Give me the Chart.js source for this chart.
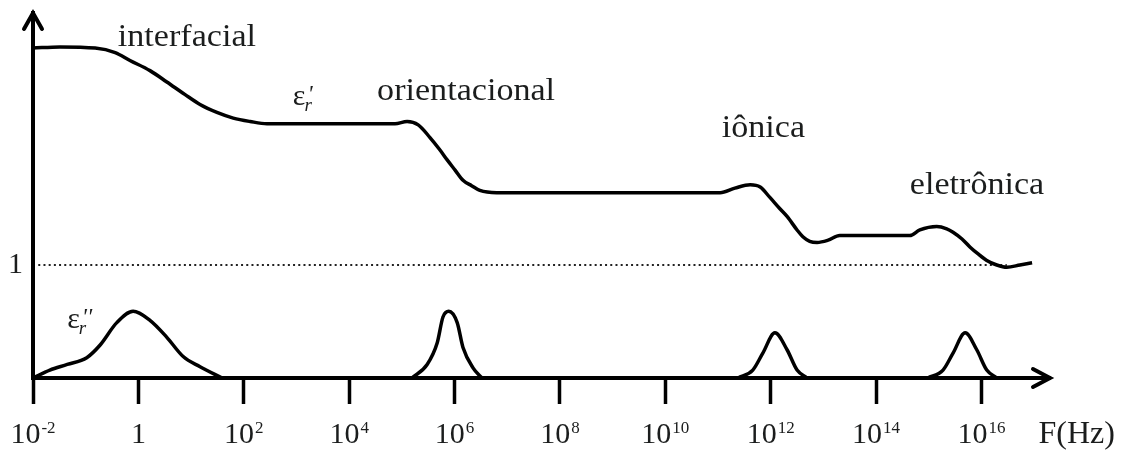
<!DOCTYPE html>
<html>
<head>
<meta charset="utf-8">
<script src="https://cdn.jsdelivr.net/npm/chart.js@4.4.1/dist/chart.umd.min.js"></script>
<style>
html,body{margin:0;padding:0;background:#fff;}
#wrap{width:1121px;height:450px;}
</style>
</head>
<body>
<div id="wrap"><canvas id="c" width="1121" height="450"></canvas></div>
<script>
// Frequency axis in decades: x = log10(F / Hz); labels are base + exponent
const decadeTicks = [-2, 0, 2, 4, 6, 8, 10, 12, 14, 16];
const tickBase = ['10', '1', '10', '10', '10', '10', '10', '10', '10', '10'];
const tickExp = ['-2', '', '2', '4', '6', '8', '10', '12', '14', '16'];

// Real part of the relative permittivity, ε'r
const realLg = [-2.00, -1.49, -0.82, -0.44, -0.16, 0.22, 0.54, 0.88, 1.17, 1.49, 1.80, 2.12, 2.44, 3.07, 4.02,
  4.87, 5.10, 5.31, 5.53, 5.72, 5.86, 6.01, 6.16, 6.33, 6.48, 6.80, 7.81, 8.76, 9.71, 10.66, 11.04, 11.32, 11.61,
  11.80, 11.98, 12.17, 12.31, 12.50, 12.61, 12.74, 12.88, 13.09, 13.31, 13.88, 14.64, 14.83, 15.15, 15.34, 15.46,
  15.63, 15.78, 15.93, 16.10, 16.29, 16.48, 16.73, 16.96];
const realVal = [2.92, 2.93, 2.92, 2.88, 2.81, 2.72, 2.62, 2.51, 2.42, 2.35, 2.30, 2.27, 2.25, 2.25, 2.25,
  2.25, 2.27, 2.24, 2.13, 2.02, 1.93, 1.84, 1.75, 1.70, 1.66, 1.64, 1.64, 1.64, 1.64, 1.64, 1.64, 1.68, 1.71,
  1.69, 1.60, 1.50, 1.43, 1.31, 1.25, 1.21, 1.20, 1.22, 1.26, 1.26, 1.26, 1.31, 1.34, 1.32, 1.29,
  1.23, 1.16, 1.10, 1.04, 1.00, 0.98, 1.00, 1.02];

// Imaginary part ε''r: one loss bump per mechanism, null breaks the line between bumps
const lossLg = [-2.00, -1.68, -1.35, -0.98, -0.73, -0.41, -0.10, 0.22, 0.54, 0.85, 1.17, 1.59,
  3.40,
  5.19, 5.48, 5.67, 5.78, 5.89, 6.05, 6.16, 6.35, 6.52,
  9.00,
  11.38, 11.66, 11.85, 12.08, 12.31, 12.50, 12.69,
  13.80,
  14.98, 15.27, 15.46, 15.69, 15.91, 16.10, 16.29];
const lossVal = [0, 0.07, 0.12, 0.18, 0.29, 0.49, 0.59, 0.51, 0.36, 0.19, 0.10, 0,
  null,
  0, 0.12, 0.31, 0.54, 0.59, 0.49, 0.27, 0.09, 0,
  null,
  0, 0.07, 0.22, 0.40, 0.25, 0.07, 0,
  null,
  0, 0.07, 0.22, 0.40, 0.25, 0.07, 0];

// ε'r = 1 reference level
const unityLg = [-1.9, 16.48];
const unityVal = [1, 1];

// Polarization mechanism names and where they sit (decade, ε')
const mechanismNames = ['interfacial', 'orientacional', 'iônica', 'eletrônica'];
const mechanismLg = [-0.39, 4.53, 11.07, 14.64];
const mechanismVal = [2.94, 2.46, 2.13, 1.63];

// Curve symbols: ε'r and ε''r
const symbolPrimes = ["'", "''"];
const symbolLg = [2.93, -1.35];
const symbolVal = [2.42, 0.44];

const SERIF = '"Liberation Serif", "Times New Roman", serif';
const INK = '#1b1d1d';

const pts = (xs, ys) => xs.map((x, i) => ({ x, y: ys[i] }));

const decorations = {
  id: 'decorations',
  afterDraw(chart) {
    const { ctx, chartArea: a, scales: { x, y } } = chart;
    ctx.save();
    // arrowheads on both axes
    ctx.strokeStyle = '#000';
    ctx.lineWidth = 4;
    ctx.lineCap = 'round';
    ctx.lineJoin = 'miter';
    ctx.beginPath();
    ctx.moveTo(a.right - 17, a.bottom - 9);
    ctx.lineTo(a.right, a.bottom);
    ctx.lineTo(a.right - 17, a.bottom + 9);
    ctx.moveTo(a.left - 9, a.top + 16);
    ctx.lineTo(a.left, a.top);
    ctx.lineTo(a.left + 9, a.top + 16);
    ctx.stroke();

    ctx.fillStyle = INK;
    ctx.textBaseline = 'alphabetic';
    ctx.textAlign = 'left';

    // decade labels under the tick marks: 10 with a raised exponent
    const labelBase = a.bottom + 65;
    x.ticks.forEach(t => {
      const i = decadeTicks.indexOf(t.value);
      if (i < 0) return;
      ctx.font = '30px ' + SERIF;
      const wb = ctx.measureText(tickBase[i]).width;
      ctx.font = '17px ' + SERIF;
      const we = tickExp[i] ? ctx.measureText(tickExp[i]).width + 1 : 0;
      const left = x.getPixelForValue(t.value) - (wb + we) / 2;
      ctx.font = '30px ' + SERIF;
      ctx.fillText(tickBase[i], left, labelBase);
      if (tickExp[i]) {
        ctx.font = '17px ' + SERIF;
        ctx.fillText(tickExp[i], left + wb + 1, labelBase - 10);
      }
    });

    // frequency unit at the end of the axis
    ctx.font = '32px ' + SERIF;
    ctx.fillText('F(Hz)', x.getPixelForValue(16) + 57, labelBase);

    // mechanism names
    ctx.font = '31px ' + SERIF;
    mechanismNames.forEach((name, i) => {
      const px = x.getPixelForValue(mechanismLg[i]);
      const py = y.getPixelForValue(mechanismVal[i]);
      ctx.save();
      ctx.translate(px, py);
      ctx.scale(1.1, 1);
      ctx.fillText(name, 0, 0);
      ctx.restore();
    });

    // ε'r and ε''r
    symbolPrimes.forEach((prime, i) => {
      const px = x.getPixelForValue(symbolLg[i]);
      const py = y.getPixelForValue(symbolVal[i]);
      ctx.font = '30px ' + SERIF;
      const w = ctx.measureText('ε').width;
      ctx.fillText('ε', px, py);
      ctx.font = 'italic 24px ' + SERIF;
      ctx.fillText(prime, px + w + 2, py - 4);
      ctx.font = 'italic 19px ' + SERIF;
      ctx.fillText('r', px + w - 1, py + 6);
    });
    ctx.restore();
  }
};

new Chart(document.getElementById('c'), {
  type: 'line',
  data: {
    datasets: [
      {
        data: pts(realLg, realVal),
        borderColor: '#000', borderWidth: 3.5,
        cubicInterpolationMode: 'monotone', pointRadius: 0, fill: false
      },
      {
        data: pts(lossLg, lossVal),
        borderColor: '#000', borderWidth: 3.5, spanGaps: false,
        cubicInterpolationMode: 'monotone', pointRadius: 0, fill: false
      },
      {
        data: pts(unityLg, unityVal),
        borderColor: '#222', borderWidth: 2.2, borderDash: [2, 3.2],
        pointRadius: 0, fill: false, tension: 0
      }
    ]
  },
  options: {
    responsive: false,
    animation: false,
    devicePixelRatio: 1,
    layout: { padding: { top: 13, right: 71, left: 0, bottom: 0 } },
    plugins: { legend: { display: false }, tooltip: { enabled: false }, title: { display: false } },
    scales: {
      x: {
        type: 'linear',
        min: -2, max: 17.3,
        afterBuildTicks(scale) { scale.ticks = decadeTicks.map(v => ({ value: v })); },
        afterFit(scale) {
          scale.height = 72;
          scale.paddingLeft = 0; scale.paddingRight = 0; scale.paddingTop = 0; scale.paddingBottom = 0;
        },
        ticks: { display: false, autoSkip: false, maxRotation: 0 },
        grid: { display: true, drawOnChartArea: false, drawTicks: true, tickLength: 26, tickWidth: 3.5, tickColor: '#000' },
        border: { display: true, color: '#000', width: 4 }
      },
      y: {
        type: 'linear',
        min: 0, max: 3.23,
        afterBuildTicks(scale) { scale.ticks = [{ value: 1 }]; },
        afterFit(scale) {
          scale.width = 33;
          scale.paddingLeft = 0; scale.paddingRight = 0; scale.paddingTop = 0; scale.paddingBottom = 0;
        },
        ticks: { padding: 10, color: INK, font: { family: SERIF, size: 30 }, callback: () => '1' },
        grid: { display: false, drawTicks: false },
        border: { display: true, color: '#000', width: 4 }
      }
    }
  },
  plugins: [decorations]
});
</script>
</body>
</html>
